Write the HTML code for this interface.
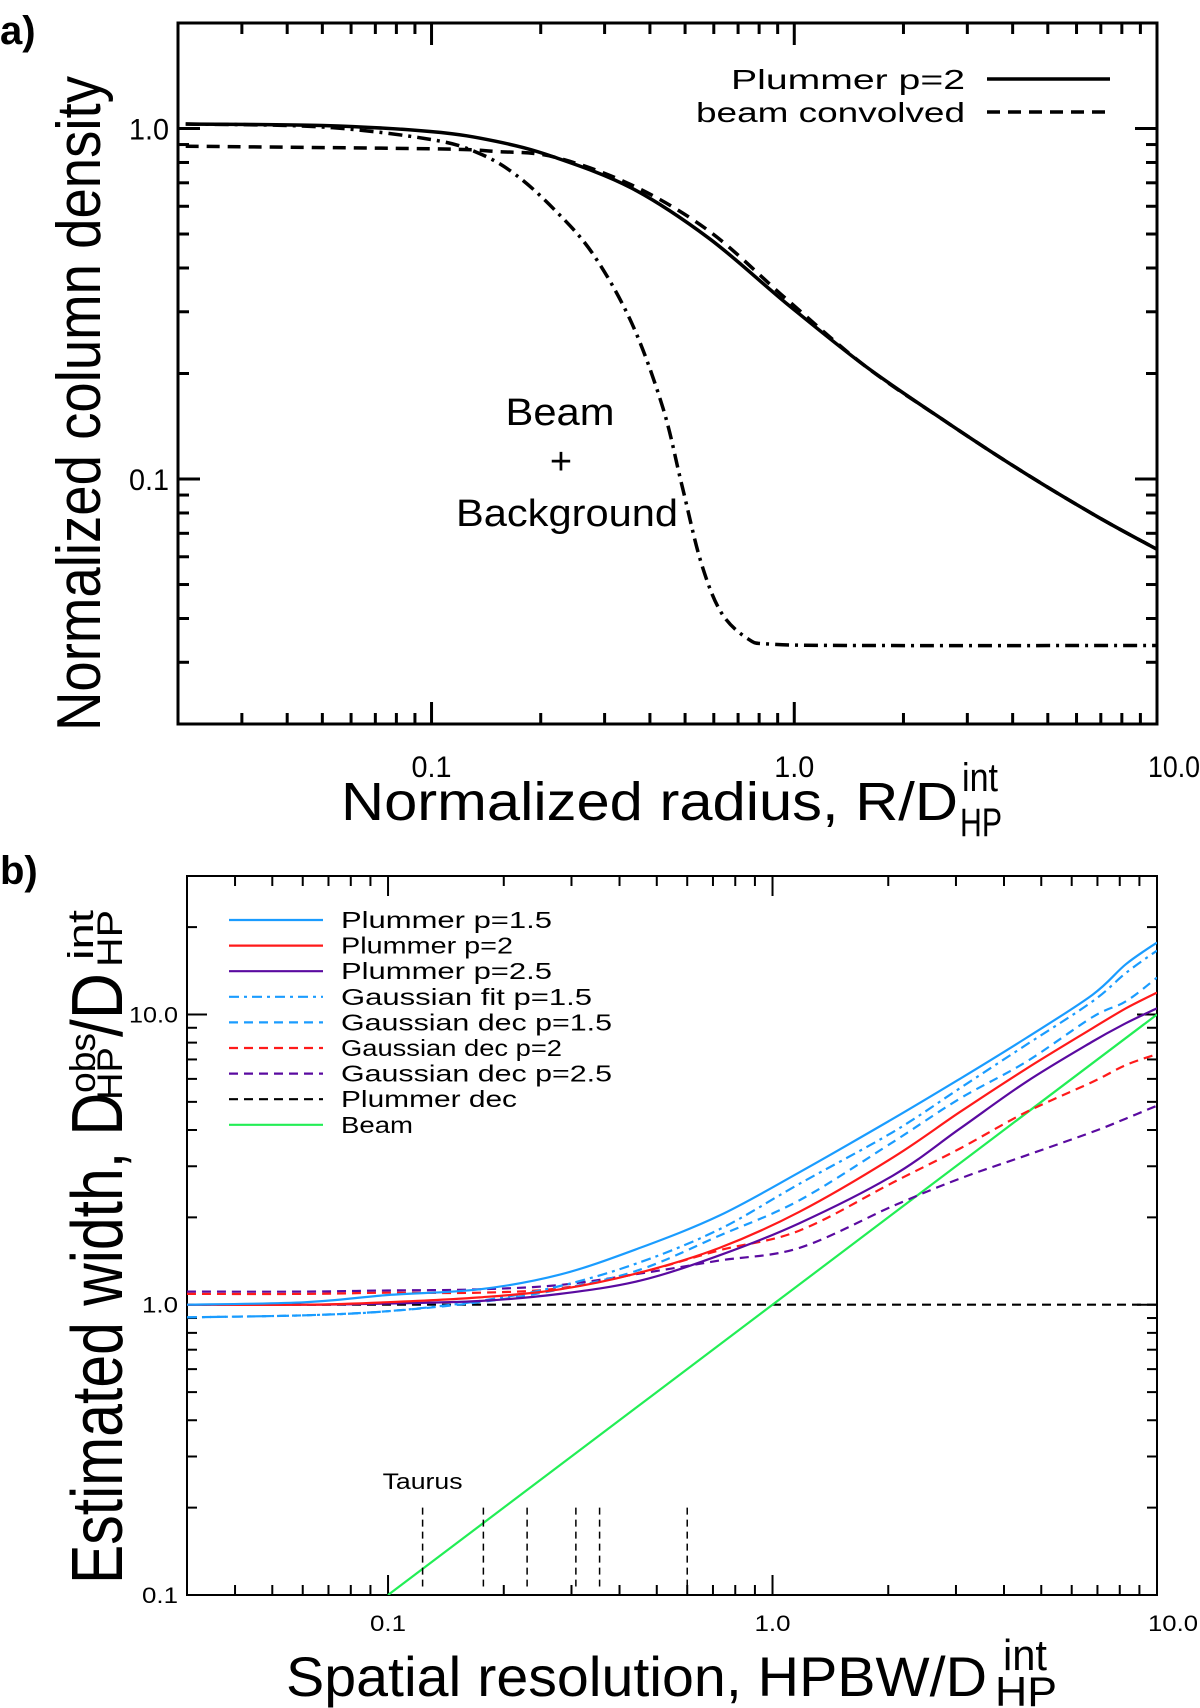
<!DOCTYPE html>
<html><head><meta charset="utf-8"><style>
html,body{margin:0;padding:0;background:#fff}
svg{display:block}
text{font-family:"Liberation Sans",sans-serif;fill:#000}
</style></head><body>
<svg id="fig" width="1200" height="1708" viewBox="0 0 1200 1708" xmlns="http://www.w3.org/2000/svg">
<g id="pa"></g>
<g id="pb"></g>
</svg>
<script>
// ---- Panel a data ----
const aPlummerX = [0.021,0.05,0.1,0.15,0.217,0.356,0.582,0.955,1.56,2.56,4.19,6.86,10];
const aPlummerY = [1.03,1.02,0.98,0.92,0.83,0.676,0.486,0.316,0.211,0.148,0.106,0.078,0.063];
const aConvX = [0.021,0.1,0.15,0.217,0.356,0.582,0.955,1.56,2.56,4.19,6.86,10];
const aConvY = [0.89,0.875,0.86,0.83,0.69,0.51,0.325,0.211,0.148,0.106,0.078,0.063];
const aBeamX = [0.021,0.05,0.1,0.135,0.17,0.217,0.278,0.356,0.434,0.49,0.553,0.628,0.745,0.863,1.5,10];
const aBeamY = [1.03,1.01,0.93,0.85,0.74,0.59,0.44,0.279,0.16,0.096,0.058,0.0417,0.035,0.0338,0.0335,0.0335];
const aXTicks = [0.1,1,10];
const aXTickLabels = ["0.1","1.0","10.0"];
const aYTicks = [0.1,1];
const aYTickLabels = ["0.1","1.0"];
// ---- Panel b data ----
const bX = [0.03,0.061,0.1,0.173,0.28,0.452,0.728,1.175,2.06,3.07,4.57,6.8,8.3,10];
const bPl15 = [1.0,1.02,1.08,1.13,1.27,1.57,2.03,2.86,4.38,6.0,8.3,11.7,14.9,17.7];
const bPl2  = [1.0,1.0,1.02,1.06,1.13,1.29,1.57,2.09,3.22,4.61,6.5,8.97,10.5,11.9];
const bPl25 = [1.0,1.0,1.01,1.03,1.09,1.21,1.48,1.91,2.79,4.04,5.86,8.07,9.33,10.5];
const bGf15 = [0.905,0.92,0.95,1.03,1.16,1.4,1.82,2.61,3.94,5.57,7.86,11.1,13.9,16.6];
const bGd15 = [0.905,0.92,0.95,1.02,1.13,1.32,1.73,2.29,3.64,5.13,6.87,9.8,11.1,13.4];
const bGd2  = [1.09,1.09,1.1,1.1,1.14,1.29,1.54,1.8,2.64,3.45,4.61,5.86,6.7,7.3];
const bGd25 = [1.11,1.11,1.12,1.13,1.17,1.28,1.42,1.57,2.19,2.72,3.27,3.94,4.38,4.85];
const bPlDecX = [0.03,10];
const bPlDecY = [1.0,1.0];
const bBeamX = [0.1,10];
const bBeamY = [0.1,10];
const bTaurusX = [0.123,0.177,0.23,0.308,0.355,0.6];
const bTaurusY = [0.107,0.2];
const bXTicks = [0.1,1,10];
const bXTickLabels = ["0.1","1.0","10.0"];
const bYTicks = [0.1,1,10];
const bYTickLabels = ["0.1","1.0","10.0"];

const NS = "http://www.w3.org/2000/svg";
function mk(parent, tag, attrs){
  const e = document.createElementNS(NS, tag);
  for (const k in attrs) e.setAttribute(k, attrs[k]);
  parent.appendChild(e); return e;
}
function logScale(d0,d1,r0,r1){
  const l0=Math.log10(d0), l1=Math.log10(d1);
  return v => r0 + (Math.log10(v)-l0)/(l1-l0)*(r1-r0);
}
function smoothPath(pts){
  if(pts.length<3) return "M"+pts.map(p=>p[0].toFixed(1)+","+p[1].toFixed(1)).join(" L");
  let d="M"+pts[0][0].toFixed(1)+","+pts[0][1].toFixed(1);
  for(let i=0;i<pts.length-1;i++){
    const p0=pts[Math.max(0,i-1)],p1=pts[i],p2=pts[i+1],p3=pts[Math.min(pts.length-1,i+2)];
    const c1=[p1[0]+(p2[0]-p0[0])/6,p1[1]+(p2[1]-p0[1])/6];
    const c2=[p2[0]-(p3[0]-p1[0])/6,p2[1]-(p3[1]-p1[1])/6];
    d+=" C"+c1[0].toFixed(1)+","+c1[1].toFixed(1)+" "+c2[0].toFixed(1)+","+c2[1].toFixed(1)+" "+p2[0].toFixed(1)+","+p2[1].toFixed(1);
  }
  return d;
}
function axesFrame(g, L,T,R,B, xs, ys, xd, yd, majLen, minLen, sw){
  const fr = mk(g,"rect",{x:L,y:T,width:R-L,height:B-T,fill:"none",stroke:"#000","stroke-width":sw});
  
  
  const tg = mk(g,"g",{stroke:"#000","stroke-width":sw});
  
  
  for(let e=Math.floor(Math.log10(xd[0]));e<=Math.ceil(Math.log10(xd[1]));e++){
    for(let m=1;m<10;m++){
      const v=m*Math.pow(10,e); if(v<xd[0]*0.999||v>xd[1]*1.001) continue;
      const x=xs(v), len=m===1?majLen:minLen;
      mk(tg,"line",{x1:x,y1:B,x2:x,y2:B-len}); mk(tg,"line",{x1:x,y1:T,x2:x,y2:T+len});
    }
  }
  for(let e=Math.floor(Math.log10(yd[0]));e<=Math.ceil(Math.log10(yd[1]));e++){
    for(let m=1;m<10;m++){
      const v=m*Math.pow(10,e); if(v<yd[0]*0.999||v>yd[1]*1.001) continue;
      const y=ys(v), len=m===1?majLen:minLen;
      mk(tg,"line",{x1:L,y1:y,x2:L+len,y2:y}); mk(tg,"line",{x1:R,y1:y,x2:R-len,y2:y});
    }
  }
}
function curve(g, xsArr, ysArr, xs, ys, color, w, dash, name){
  const pts = xsArr.map((v,i)=>[xs(v), ys(ysArr[i])]);
  const p = mk(g,"path",{d:smoothPath(pts),fill:"none",stroke:color,"stroke-width":w});
  if(dash) p.setAttribute("stroke-dasharray",dash);
  
  
  return p;
}
function txt(g, x,y, s, size, anchor, name, len, extra){
  const a = Object.assign({x:x,y:y,"font-size":size,"text-anchor":anchor||"start"},extra||{});
  if(len){ a.textLength=len; a.lengthAdjust="spacingAndGlyphs"; }
  const t = mk(g,"text",a);
  t.textContent = s;
  
  
  return t;
}
function rtxt(g, bx, yStart, s, size, len, name){
  const t = mk(g,"text",{x:0,y:0,"font-size":size,textLength:len,lengthAdjust:"spacingAndGlyphs",transform:"translate("+bx+","+yStart+") rotate(-90)"});
  t.textContent = s;
  
  
  return t;
}

// ===== Panel a =====
(function(){
  const g=document.getElementById('pa');
  const L=178,T=23,R=1157,B=724;
  const xd=[0.02,10], yd=[0.02,2];
  const xs=logScale(xd[0],xd[1],L,R), ys=logScale(yd[0],yd[1],B,T);
  axesFrame(g,L,T,R,B,xs,ys,xd,yd,22,11,3);
  curve(g,aPlummerX,aPlummerY,xs,ys,"#000",3.5,null,"plummer-p2-curve");
  curve(g,aConvX,aConvY,xs,ys,"#000",3.5,"13,8","beam-convolved-curve");
  curve(g,aBeamX,aBeamY,xs,ys,"#000",3.5,"14,6,3,6","beam-background-curve");
  aXTicks.forEach((v,i)=>{
    if(i===2) txt(g,1200,777,aXTickLabels[i],30,"end","x-tick-label",52);
    else txt(g,xs(v),777,aXTickLabels[i],30,"middle","x-tick-label",40);
  });
  aYTicks.forEach((v,i)=>txt(g,169,ys(v)+11,aYTickLabels[i],30,"end","y-tick-label",40));
  txt(g,965,89,"Plummer p=2",28,"end","legend-label-plummer",234);
  mk(g,"line",{x1:987,y1:79,x2:1110,y2:79,stroke:"#000","stroke-width":3.5});
  txt(g,965,122,"beam convolved",28,"end","legend-label-convolved",269);
  mk(g,"line",{x1:987,y1:112,x2:1110,y2:112,stroke:"#000","stroke-width":3.5,"stroke-dasharray":"13,8"});
  txt(g,560,425,"Beam",38,"middle","annotation-beam",109);
  txt(g,561,474,"+",38,"middle","annotation-plus");
  txt(g,567,526,"Background",38,"middle","annotation-background",222);
  txt(g,341,820,"Normalized radius, R/D",54,"start","x-axis-title",617);
  txt(g,962,791,"int",40,"start","x-axis-title-sup",36);
  txt(g,960,836,"HP",40,"start","x-axis-title-sub",42);
  rtxt(g,100,731,"Normalized column density",62,655,"y-axis-title");
  txt(g,0,44,"a)",40,"start","panel-a-label",null,{"font-weight":"bold"});
})();

// ===== Panel b =====
(function(){
  const g=document.getElementById('pb');
  const L=187,T=876,R=1157,B=1595;
  const xd=[0.03,10], yd=[0.1,30];
  const xs=logScale(xd[0],xd[1],L,R), ys=logScale(yd[0],yd[1],B,T);
  axesFrame(g,L,T,R,B,xs,ys,xd,yd,20,10,2);
  const blue="#1a9cff", red="#ff1a1a", purple="#5a0aa0", green="#22ee55";
  const clip=mk(g,"clipPath",{id:"cb"}); mk(clip,"rect",{x:L,y:T,width:R-L,height:B-T});
  const cg=mk(g,"g",{"clip-path":"url(#cb)"});
  
  
  curve(cg,bPlDecX,bPlDecY,xs,ys,"#000",2.2,"9,6","plummer-dec-curve");
  curve(cg,bBeamX,bBeamY,xs,ys,green,2.2,null,"beam-curve");
  curve(cg,bX,bGd25,xs,ys,purple,2.2,"9,6","gaussian-dec-p2.5-curve");
  curve(cg,bX,bGd2,xs,ys,red,2.2,"9,6","gaussian-dec-p2-curve");
  curve(cg,bX,bGd15,xs,ys,blue,2.2,"9,6","gaussian-dec-p1.5-curve");
  curve(cg,bX,bGf15,xs,ys,blue,2.2,"10,5,3,5","gaussian-fit-p1.5-curve");
  curve(cg,bX,bPl25,xs,ys,purple,2.2,null,"plummer-p2.5-curve");
  curve(cg,bX,bPl2,xs,ys,red,2.2,null,"plummer-p2-curve");
  curve(cg,bX,bPl15,xs,ys,blue,2.2,null,"plummer-p1.5-curve");
  bTaurusX.forEach(v=>{
    const l=mk(g,"line",{x1:xs(v),y1:ys(bTaurusY[1]),x2:xs(v),y2:ys(bTaurusY[0]),stroke:"#000","stroke-width":1.5,"stroke-dasharray":"7,5"});
    
    
  });
  txt(g,xs(bTaurusX[0]),1489,"Taurus",22,"middle","taurus-label",80);
  bXTicks.forEach((v,i)=>{
    if(i===2) txt(g,1198,1631,bXTickLabels[i],22,"end","x-tick-label",50);
    else txt(g,xs(v),1631,bXTickLabels[i],22,"middle","x-tick-label",36);
  });
  bYTicks.forEach((v,i)=>txt(g,178,ys(v)+8,bYTickLabels[i],22,"end","y-tick-label",i===2?49:36));
  const leg=[["Plummer p=1.5",blue,null,211],["Plummer p=2",red,null,172],["Plummer p=2.5",purple,null,211],
    ["Gaussian fit p=1.5",blue,"10,5,3,5",251],["Gaussian dec p=1.5",blue,"9,6",271],["Gaussian dec p=2",red,"9,6",221],
    ["Gaussian dec p=2.5",purple,"9,6",271],["Plummer dec","#000","9,6",176],["Beam",green,null,72]];
  leg.forEach((e,i)=>{
    const y=920+i*25.6;
    const l=mk(g,"line",{x1:229,y1:y,x2:323,y2:y,stroke:e[1],"stroke-width":2.2});
    if(e[2]) l.setAttribute("stroke-dasharray",e[2]);
    
    
    txt(g,341,y+8,e[0],23,"start","legend-label",e[3]);
  });
  txt(g,286,1696,"Spatial resolution, HPBW/D",56,"start","x-axis-title",701);
  txt(g,1003,1670,"int",44,"start","x-axis-title-sup",44);
  txt(g,995,1706,"HP",42,"start","x-axis-title-sub",62);
  rtxt(g,122,1584,"Estimated width, D",72,491,"y-axis-title");
  rtxt(g,95,1093,"obs",36,60,"y-axis-title-sup1");
  rtxt(g,122,1100,"HP",35,53,"y-axis-title-sub1");
  rtxt(g,122,1037,"/D",72,64,"y-axis-title-2");
  rtxt(g,93,960,"int",36,50,"y-axis-title-sup2");
  rtxt(g,122,967,"HP",35,57,"y-axis-title-sub2");
  txt(g,0,884,"b)",40,"start","panel-b-label",null,{"font-weight":"bold"});
})();
</script>
</body></html>
